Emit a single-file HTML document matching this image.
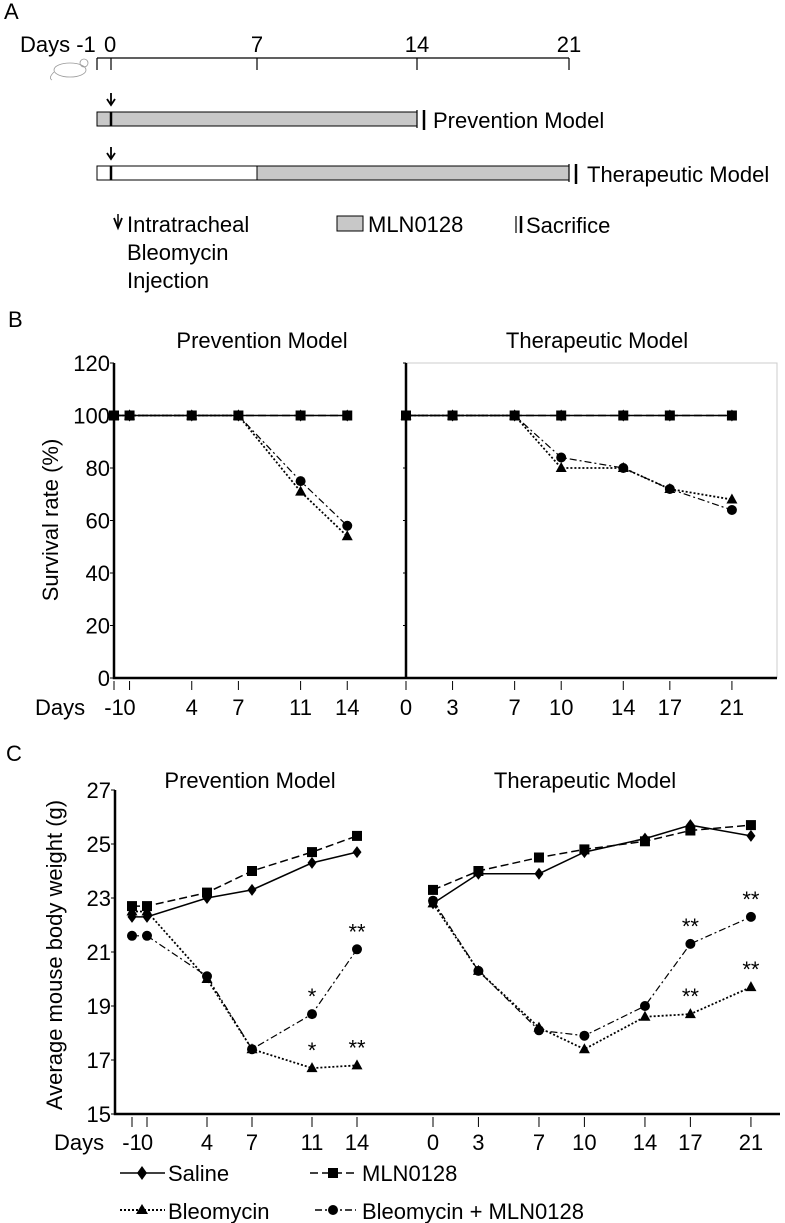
<!DOCTYPE html>
<html><head><meta charset="utf-8"><style>
html,body{margin:0;padding:0;background:#fff}
svg{display:block;font-family:"Liberation Sans",Arial,sans-serif}
</style></head><body>
<svg id="fig" width="785" height="1223" viewBox="0 0 785 1223" xmlns="http://www.w3.org/2000/svg">
<!-- Panel A -->
<g font-size="22" fill="#000">
  <text x="4" y="19">A</text>
  <text x="20" y="52">Days -1</text>
  <text x="104" y="52">0</text>
  <text x="257" y="52" text-anchor="middle">7</text>
  <text x="417" y="52" text-anchor="middle">14</text>
  <text x="569" y="52" text-anchor="middle">21</text>
  <g stroke="#000" stroke-width="1.2">
    <line x1="97" y1="58" x2="569" y2="58"/>
    <line x1="97" y1="58" x2="97" y2="70"/><line x1="111" y1="58" x2="111" y2="70"/>
    <line x1="257" y1="58" x2="257" y2="70"/><line x1="417" y1="58" x2="417" y2="70"/>
    <line x1="569" y1="58" x2="569" y2="70"/>
  </g>
  <g fill="none" stroke="#999" stroke-width="0.8">
    <ellipse cx="70" cy="70" rx="16" ry="7"/><circle cx="84" cy="63" r="4"/><path d="M54 72 Q48 78 52 80"/>
  </g>
  <g stroke="#000" stroke-width="1.8" fill="none"><line x1="111" y1="93" x2="111" y2="104"/><path d="M107 99 L111 105 L115 99"/></g>
  <rect x="97" y="112" width="320" height="14" fill="#c8c8c8" stroke="#000"/>
  <line x1="111" y1="112" x2="111" y2="126" stroke="#000" stroke-width="2.5"/>
  <line x1="417" y1="110" x2="417" y2="128" stroke="#000" stroke-width="1.2"/>
  <line x1="424" y1="110" x2="424" y2="130" stroke="#000" stroke-width="2.5"/>
  <text x="433" y="128">Prevention Model</text>
  <g stroke="#000" stroke-width="1.8" fill="none"><line x1="111" y1="147" x2="111" y2="158"/><path d="M107 153 L111 159 L115 153"/></g>
  <rect x="97" y="166" width="160" height="14" fill="#fff" stroke="#000"/>
  <rect x="257" y="166" width="312" height="14" fill="#c8c8c8" stroke="#000"/>
  <line x1="111" y1="166" x2="111" y2="180" stroke="#000" stroke-width="2.5"/>
  <line x1="569" y1="164" x2="569" y2="182" stroke="#000" stroke-width="1.2"/>
  <line x1="576" y1="164" x2="576" y2="184" stroke="#000" stroke-width="2.5"/>
  <text x="587" y="182">Therapeutic Model</text>
  <g>
    <path d="M114 218 L118 228 L122 218" fill="none" stroke="#000" stroke-width="1.8"/>
    <line x1="118" y1="214" x2="118" y2="227" stroke="#000" stroke-width="1.5"/>
    <text x="127" y="232">Intratracheal</text><text x="127" y="260">Bleomycin</text><text x="127" y="288">Injection</text>
  </g>
  <g><rect x="337" y="216" width="26" height="15" fill="#c8c8c8" stroke="#000"/><text x="368" y="232">MLN0128</text></g>
  <g><line x1="516" y1="216" x2="516" y2="233" stroke="#000" stroke-width="1.2"/><line x1="521" y1="216" x2="521" y2="233" stroke="#000" stroke-width="2.5"/><text x="526" y="233">Sacrifice</text></g>
</g>
<g id="panelB"></g>
<g id="panelC"></g>
<g font-size="22">
  <g><line x1="120" y1="1173" x2="165" y2="1173" stroke="#000" stroke-width="1.5"/><path d="M142 1166 L147 1173 L142 1180 L137 1173Z"/><text x="168" y="1181">Saline</text></g>
  <g><line x1="310" y1="1173" x2="356" y2="1173" stroke="#000" stroke-width="1.5" stroke-dasharray="8,4"/><rect x="328" y="1168" width="10" height="10"/><text x="362" y="1181">MLN0128</text></g>
  <g><line x1="120" y1="1210" x2="165" y2="1210" stroke="#000" stroke-width="2" stroke-dasharray="2,2"/><path d="M142 1204 L148 1214 L136 1214Z"/><text x="168" y="1219">Bleomycin</text></g>
  <g><line x1="315" y1="1210" x2="356" y2="1210" stroke="#000" stroke-width="1.5" stroke-dasharray="7,3,2,3"/><circle cx="333" cy="1210" r="5"/><text x="362" y="1219">Bleomycin + MLN0128</text></g>
</g>
</svg>
<script>
// ---- Panel B data ----
const bPrevDays = [-1, 0, 4, 7, 11, 14];
const bTherDays = [0, 3, 7, 10, 14, 17, 21];
const bYTicks = [0, 20, 40, 60, 80, 100, 120];
const bPrevSaline = [100, 100, 100, 100, 100, 100];
const bPrevMLN = [100, 100, 100, 100, 100, 100];
const bPrevBleo = [100, 100, 100, 100, 71, 54];
const bPrevBleoMLN = [100, 100, 100, 100, 75, 58];
const bTherSaline = [100, 100, 100, 100, 100, 100, 100];
const bTherMLN = [100, 100, 100, 100, 100, 100, 100];
const bTherBleo = [100, 100, 100, 80, 80, 72, 68];
const bTherBleoMLN = [100, 100, 100, 84, 80, 72, 64];
// ---- Panel C data ----
const cPrevDays = [-1, 0, 4, 7, 11, 14];
const cTherDays = [0, 3, 7, 10, 14, 17, 21];
const cYTicks = [15, 17, 19, 21, 23, 25, 27];
const cPrevSaline = [22.3, 22.3, 23.0, 23.3, 24.3, 24.7];
const cPrevMLN = [22.7, 22.7, 23.2, 24.0, 24.7, 25.3];
const cPrevBleo = [22.5, 22.5, 20.0, 17.4, 16.7, 16.8];
const cPrevBleoMLN = [21.6, 21.6, 20.1, 17.4, 18.7, 21.1];
const cTherSaline = [22.8, 23.9, 23.9, 24.7, 25.2, 25.7, 25.3];
const cTherMLN = [23.3, 24.0, 24.5, 24.8, 25.1, 25.5, 25.7];
const cTherBleo = [22.8, 20.3, 18.2, 17.4, 18.6, 18.7, 19.7];
const cTherBleoMLN = [22.9, 20.3, 18.1, 17.9, 19.0, 21.3, 22.3];
const cPrevStarsBleo = ["", "", "", "", "*", "**"];
const cPrevStarsBleoMLN = ["", "", "", "", "*", "**"];
const cTherStarsBleo = ["", "", "", "", "", "**", "**"];
const cTherStarsBleoMLN = ["", "", "", "", "", "**", "**"];

const NS = "http://www.w3.org/2000/svg";
const FS = 22;
function mk(parent, tag, attrs, text) {
  const e = document.createElementNS(NS, tag);
  for (const k in attrs) e.setAttribute(k, attrs[k]);
  if (text !== undefined) e.textContent = text;
  parent.appendChild(e);
  return e;
}
const styles = {
  saline: {dash: "", w: 1.5, m: "diamond"},
  mln: {dash: "8,4", w: 1.5, m: "square"},
  bleo: {dash: "2,2", w: 1.8, m: "triangle"},
  bleomln: {dash: "7,3,2,3", w: 1.2, m: "circle"}
};
function marker(g, type, x, y) {
  let e;
  if (type === "diamond") e = mk(g, "path", {d: `M${x} ${y-6}L${x+4.5} ${y}L${x} ${y+6}L${x-4.5} ${y}Z`});
  else if (type === "square") e = mk(g, "rect", {x: x-5, y: y-5, width: 10, height: 10});
  else if (type === "triangle") e = mk(g, "path", {d: `M${x} ${y-6}L${x+5.5} ${y+4}L${x-5.5} ${y+4}Z`});
  else e = mk(g, "circle", {cx: x, cy: y, r: 5});
  
  
}
function series(g, name, key, days, vals, sx, sy) {
  const sg = mk(g, "g", {});
  
  
  const st = styles[key];
  const pts = days.map((d, i) => sx(d) + "," + sy(vals[i])).join(" ");
  const pl = mk(sg, "polyline", {points: pts, fill: "none", stroke: "#000", "stroke-width": st.w, "stroke-dasharray": st.dash});
  
  
  days.forEach((d, i) => marker(sg, st.m, sx(d), sy(vals[i])));
}
function stars(g, days, vals, labels, sx, sy) {
  days.forEach((d, i) => {
    if (!labels[i]) return;
    const t = mk(g, "text", {x: sx(d), y: sy(vals[i]) - 10, "text-anchor": "middle", "font-size": FS}, labels[i]);
    
    
  });
}

// ---- Panel B ----
(function () {
  const g = document.getElementById("panelB");
  const y0 = 678, yTop = 363, xL = 114, xDiv = 406, xR = 777;
  const sy = v => y0 - (v - 0) / 120 * (y0 - yTop);
  const sxP = d => 114 + (d + 1) * 15.55;
  const sxT = d => 406 + d * 15.52;
  let t = mk(g, "text", {x: 8, y: 327, "font-size": FS}, "B");
   
  t = mk(g, "text", {x: 262, y: 348, "text-anchor": "middle", "font-size": FS}, "Prevention Model");
   
  t = mk(g, "text", {x: 597, y: 348, "text-anchor": "middle", "font-size": FS}, "Therapeutic Model");
   
  const fr = mk(g, "path", {d: `M${xDiv} ${yTop}H${xR}V${y0}`, fill: "none", stroke: "#ccc", "stroke-width": 1});
   
  const ax = mk(g, "path", {d: `M${xL} ${yTop}V${y0}H${xR}M${xDiv} ${yTop}V${y0}`, fill: "none", stroke: "#000", "stroke-width": 2.5});
   
  bYTicks.forEach(v => {
    mk(g, "line", {x1: xL - 4, x2: xL, y1: sy(v), y2: sy(v), stroke: "#000"});
    mk(g, "line", {x1: xDiv - 3, x2: xDiv, y1: sy(v), y2: sy(v), stroke: "#000"});
    const tl = mk(g, "text", {x: xL - 4, y: sy(v) + 8, "text-anchor": "end", "font-size": FS}, String(v));
     
  });
  const yt = mk(g, "text", {x: 0, y: 0, transform: "translate(58,520) rotate(-90)", "text-anchor": "middle", "font-size": FS}, "Survival rate (%)");
   
  const dl = mk(g, "text", {x: 35, y: 715, "font-size": FS}, "Days");
   
  [[bPrevDays, sxP], [bTherDays, sxT]].forEach(([days, sx]) => days.forEach(d => {
    mk(g, "line", {x1: sx(d), x2: sx(d), y1: 681, y2: 690, stroke: "#000"});
    const tl = mk(g, "text", {x: sx(d), y: 715, "text-anchor": "middle", "font-size": FS}, String(d));
     
  }));
  series(g, "survival-prevention-bleomycin", "bleo", bPrevDays, bPrevBleo, sxP, sy);
  series(g, "survival-prevention-bleomycin-mln0128", "bleomln", bPrevDays, bPrevBleoMLN, sxP, sy);
  series(g, "survival-prevention-mln0128", "mln", bPrevDays, bPrevMLN, sxP, sy);
  series(g, "survival-prevention-saline", "saline", bPrevDays, bPrevSaline, sxP, sy);
  series(g, "survival-therapeutic-bleomycin", "bleo", bTherDays, bTherBleo, sxT, sy);
  series(g, "survival-therapeutic-bleomycin-mln0128", "bleomln", bTherDays, bTherBleoMLN, sxT, sy);
  series(g, "survival-therapeutic-mln0128", "mln", bTherDays, bTherMLN, sxT, sy);
  series(g, "survival-therapeutic-saline", "saline", bTherDays, bTherSaline, sxT, sy);
})();

// ---- Panel C ----
(function () {
  const g = document.getElementById("panelC");
  const y0 = 1114, yTop = 790, xL = 115, xR = 780;
  const sy = v => y0 - (v - 15) / 12 * (y0 - yTop);
  const sxP = d => 132 + (d + 1) * 15;
  const sxT = d => 433 + d * 15.14;
  let t = mk(g, "text", {x: 6, y: 761, "font-size": FS}, "C");
   
  t = mk(g, "text", {x: 250, y: 788, "text-anchor": "middle", "font-size": FS}, "Prevention Model");
   
  t = mk(g, "text", {x: 585, y: 788, "text-anchor": "middle", "font-size": FS}, "Therapeutic Model");
   
  const ax = mk(g, "path", {d: `M${xL} ${yTop}V${y0}H${xR}`, fill: "none", stroke: "#000", "stroke-width": 2.5});
   
  cYTicks.forEach(v => {
    mk(g, "line", {x1: xL - 4, x2: xL, y1: sy(v), y2: sy(v), stroke: "#000"});
    const tl = mk(g, "text", {x: xL - 4, y: sy(v) + 8, "text-anchor": "end", "font-size": FS}, String(v));
     
  });
  const yt = mk(g, "text", {x: 0, y: 0, transform: "translate(62,955) rotate(-90)", "text-anchor": "middle", "font-size": FS}, "Average mouse body weight (g)");
   
  const dl = mk(g, "text", {x: 54, y: 1150, "font-size": FS}, "Days");
   
  [[cPrevDays, sxP], [cTherDays, sxT]].forEach(([days, sx]) => days.forEach(d => {
    mk(g, "line", {x1: sx(d), x2: sx(d), y1: 1117, y2: 1127, stroke: "#000"});
    const tl = mk(g, "text", {x: sx(d), y: 1150, "text-anchor": "middle", "font-size": FS}, String(d));
     
  }));
  series(g, "weight-prevention-bleomycin", "bleo", cPrevDays, cPrevBleo, sxP, sy);
  series(g, "weight-prevention-bleomycin-mln0128", "bleomln", cPrevDays, cPrevBleoMLN, sxP, sy);
  series(g, "weight-prevention-mln0128", "mln", cPrevDays, cPrevMLN, sxP, sy);
  series(g, "weight-prevention-saline", "saline", cPrevDays, cPrevSaline, sxP, sy);
  series(g, "weight-therapeutic-bleomycin", "bleo", cTherDays, cTherBleo, sxT, sy);
  series(g, "weight-therapeutic-bleomycin-mln0128", "bleomln", cTherDays, cTherBleoMLN, sxT, sy);
  series(g, "weight-therapeutic-mln0128", "mln", cTherDays, cTherMLN, sxT, sy);
  series(g, "weight-therapeutic-saline", "saline", cTherDays, cTherSaline, sxT, sy);
  stars(g, cPrevDays, cPrevBleo, cPrevStarsBleo, sxP, sy);
  stars(g, cPrevDays, cPrevBleoMLN, cPrevStarsBleoMLN, sxP, sy);
  stars(g, cTherDays, cTherBleo, cTherStarsBleo, sxT, sy);
  stars(g, cTherDays, cTherBleoMLN, cTherStarsBleoMLN, sxT, sy);
})();
</script>
</body></html>
